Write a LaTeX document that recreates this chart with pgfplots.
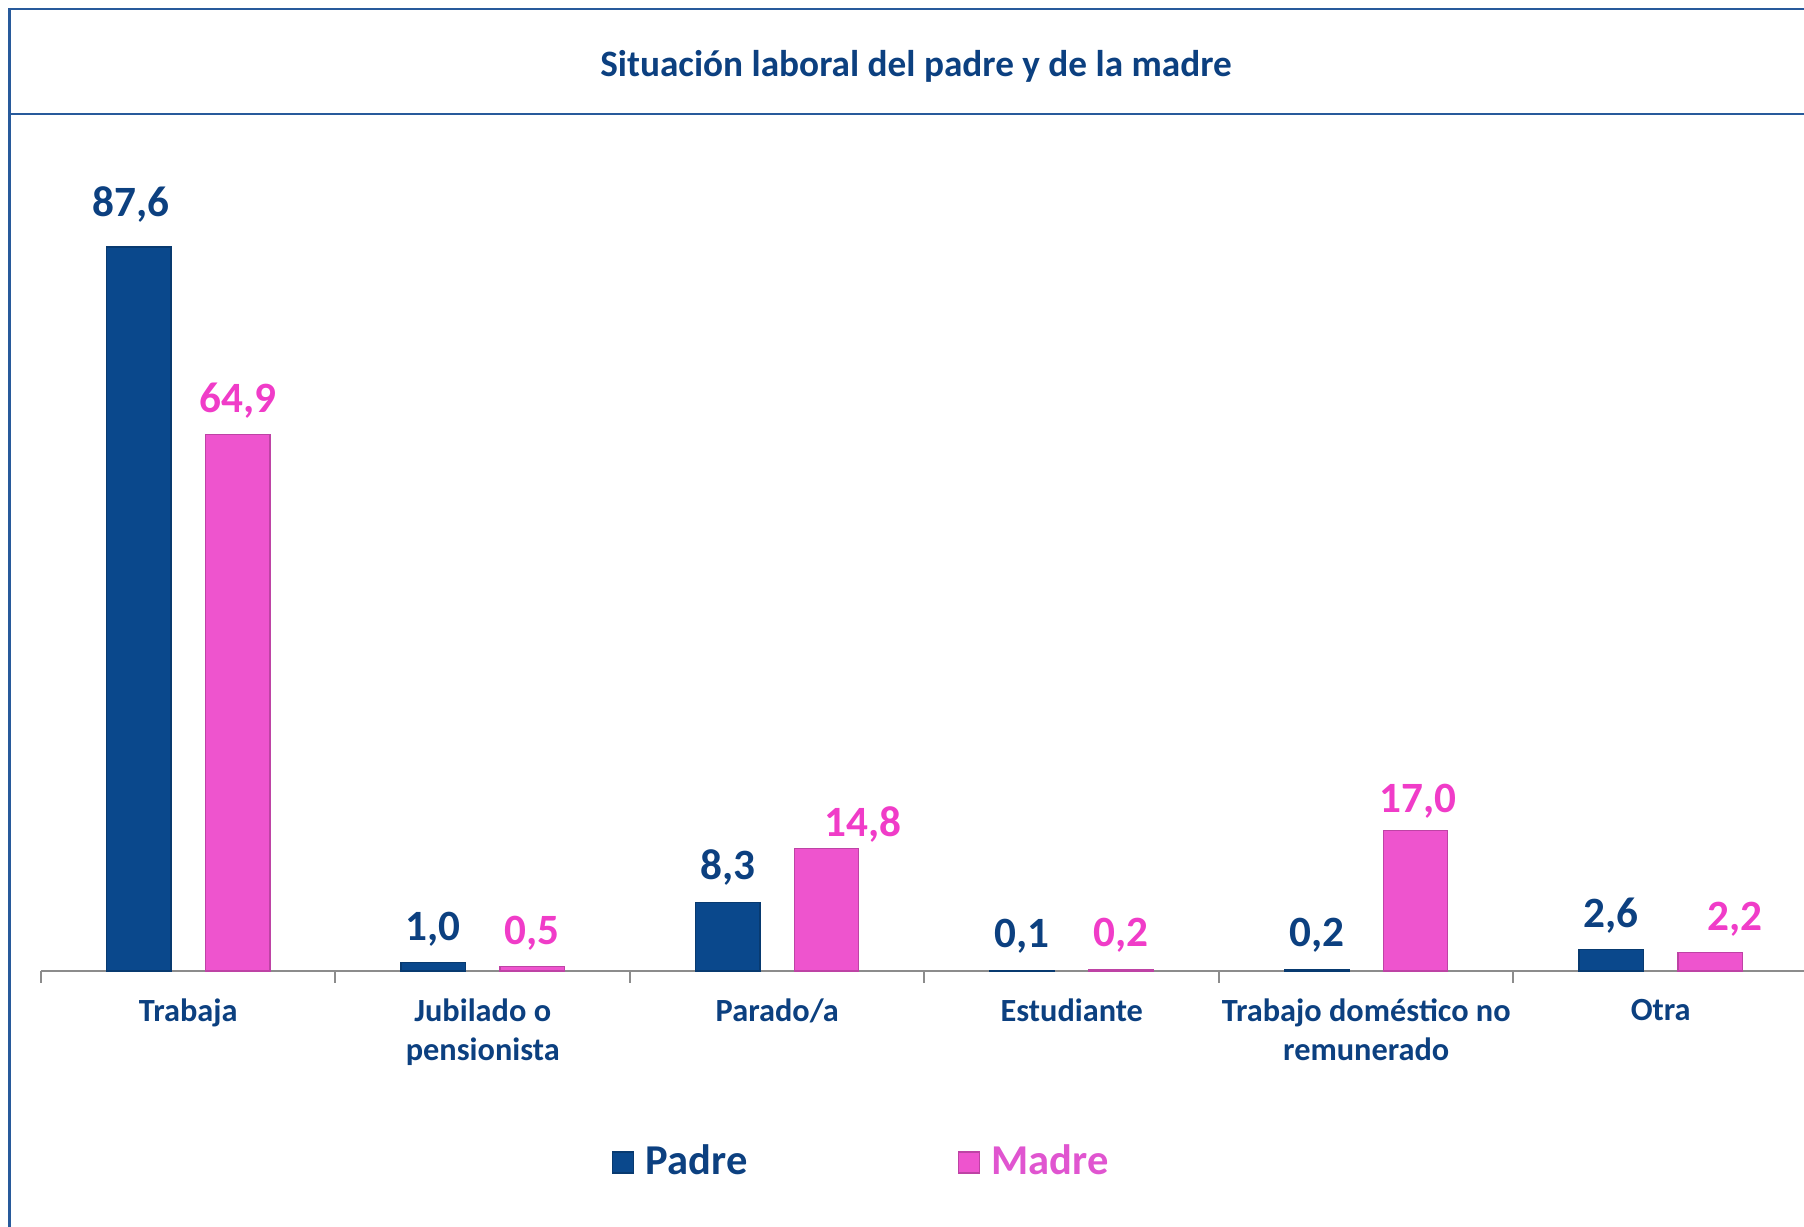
\documentclass[border=0pt]{standalone}
\usepackage{pgfplots}
\pgfplotsset{compat=1.18}
\usepackage{fontspec}
\setmainfont{Carlito}
\definecolor{pblue}{RGB}{10,72,140}
\definecolor{pbluetext}{RGB}{12,64,128}
\definecolor{mpink}{RGB}{238,84,206}
\definecolor{mpinktext}{RGB}{240,60,200}
\definecolor{mlegtext}{RGB}{224,85,208}
\definecolor{framecol}{RGB}{40,90,155}
\begin{document}
\begin{tikzpicture}
\path[use as bounding box] (0,0) rectangle (180.4mm,122.7mm);
\draw[framecol, line width=0.25mm] (0.93mm,-1mm) -- (0.93mm,121.8mm) -- (182mm,121.8mm);
\draw[framecol, line width=0.25mm] (0.93mm,111.3mm) -- (182mm,111.3mm);
\node[font=\fontsize{10.6}{12}\selectfont\bfseries, text=pbluetext] at (91.6mm,116.05mm) {Situación laboral del padre y de la madre};
\begin{axis}[
  at={(4.1mm,25.6mm)}, anchor=south west,
  scale only axis, width=176.7mm, height=82.65mm,
  xmin=-0.5, xmax=5.5, ymin=0, ymax=100,
  clip=false,
  axis x line*=bottom, axis y line=none,
  axis line style={draw=gray!90, line width=0.2mm},
  ybar,
  legend image code/.code={\fill[#1] (0mm,-1.05mm) rectangle (2.1mm,1.05mm); \path (2.6mm,0);},
  xtick={-0.5,0.5,1.5,2.5,3.5,4.5,5.5},
  x tick label as interval,
  xticklabels={Trabaja,{Jubilado o\\pensionista},Parado/a,Estudiante,{Trabajo doméstico no\\remunerado},Otra},
  xtick style={draw=gray!90, line width=0.2mm},
  major tick length=1.2mm,
  tick align=outside,
  xticklabel style={font=\fontsize{9.2}{11.1}\selectfont\bfseries, text=pbluetext, align=center, yshift=-0.35mm},
  /pgf/number format/.cd, use comma, fixed, fixed zerofill, precision=1, assume math mode=true,
  /pgfplots/.cd,
  legend style={at={(0.3227,-0.2317)}, anchor=west, draw=none, fill=none, inner sep=0pt,
    font=\fontsize{12.1}{14}\selectfont\bfseries,
    /tikz/every even column/.append style={column sep=20.3mm}},
  legend columns=2,
]
\addplot[ybar, bar width=0.219, bar shift=-0.168, fill=pblue, draw=pblue!80!black, line width=0.3pt,
  nodes near coords,
  visualization depends on={\thisrow{dx} \as \dx},
  visualization depends on={\thisrow{dy} \as \dy},
  every node near coord/.append style={font=\fontsize{12.3}{14}\selectfont\bfseries, text=pbluetext, anchor=base, inner sep=0pt, yshift=2.25mm, xshift=\dx mm, yshift=\dy mm}]
  table[x=x, y=y] {
  x y dx dy
  0 87.6 -0.8 0.8
  1 1.0 0 0
  2 8.3 0 0
  3 0.1 0 0
  4 0.2 0 0
  5 2.6 0 0
  };
\addlegendentry{\textcolor{pbluetext}{Padre}}
\addplot[ybar, bar width=0.219, bar shift=0.168, fill=mpink, draw=mpink!80!black, line width=0.3pt,
  nodes near coords,
  visualization depends on={\thisrow{dx} \as \dx},
  visualization depends on={\thisrow{dy} \as \dy},
  every node near coord/.append style={font=\fontsize{12.3}{14}\selectfont\bfseries, text=mpinktext, anchor=base, inner sep=0pt, yshift=2.25mm, xshift=\dx mm, yshift=\dy mm}]
  table[x=x, y=y] {
  x y dx dy
  0 64.9 0 0
  1 0.5 0 0
  2 14.8 3.6 -1.0
  3 0.2 0 0
  4 17.0 0.2 -0.46
  5 2.2 2.5 0
  };
\addlegendentry{\textcolor{mlegtext}{Madre}}
\end{axis}
\end{tikzpicture}
\end{document}
